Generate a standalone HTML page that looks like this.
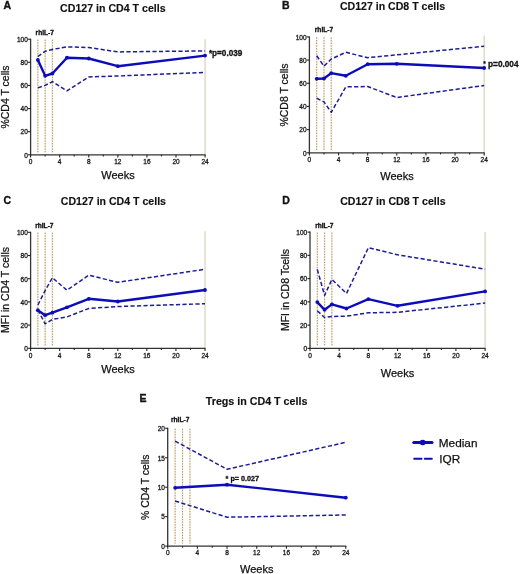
<!DOCTYPE html>
<html><head><meta charset="utf-8"><style>
html,body{margin:0;padding:0;background:#fff;width:520px;height:574px;overflow:hidden}
svg{display:block;font-family:"Liberation Sans", sans-serif;will-change:transform}
</style></head><body>
<svg width="520" height="574" viewBox="0 0 520 574">
<rect width="520" height="574" fill="#fff"/>
<line x1="37.87" y1="39.20" x2="37.87" y2="152.30" stroke="#f6eed6" stroke-width="1.6"/>
<line x1="37.87" y1="39.70" x2="37.87" y2="152.30" stroke="#ae9270" stroke-width="1.0" stroke-dasharray="1.3 1.35"/>
<line x1="45.14" y1="39.20" x2="45.14" y2="152.30" stroke="#f6eed6" stroke-width="1.6"/>
<line x1="45.14" y1="39.70" x2="45.14" y2="152.30" stroke="#ae9270" stroke-width="1.0" stroke-dasharray="1.3 1.35"/>
<line x1="52.41" y1="39.20" x2="52.41" y2="152.30" stroke="#f6eed6" stroke-width="1.6"/>
<line x1="52.41" y1="39.70" x2="52.41" y2="152.30" stroke="#ae9270" stroke-width="1.0" stroke-dasharray="1.3 1.35"/>
<line x1="205.08" y1="39.20" x2="205.08" y2="154.80" stroke="#e4dccb" stroke-width="1.6"/>
<line x1="30.60" y1="38.70" x2="30.60" y2="155.40" stroke="#333333" stroke-width="1.3"/>
<line x1="30.00" y1="154.80" x2="205.58" y2="154.80" stroke="#333333" stroke-width="1.3"/>
<line x1="28.00" y1="154.80" x2="30.60" y2="154.80" stroke="#222" stroke-width="1.1"/>
<text x="27.8" y="157.60000000000002" font-size="6.5" text-anchor="end" fill="#1a1a1a" stroke="#1a1a1a" stroke-width="0.3">0</text>
<line x1="28.00" y1="131.68" x2="30.60" y2="131.68" stroke="#222" stroke-width="1.1"/>
<text x="27.8" y="134.48000000000002" font-size="6.5" text-anchor="end" fill="#1a1a1a" stroke="#1a1a1a" stroke-width="0.3">20</text>
<line x1="28.00" y1="108.56" x2="30.60" y2="108.56" stroke="#222" stroke-width="1.1"/>
<text x="27.8" y="111.36" font-size="6.5" text-anchor="end" fill="#1a1a1a" stroke="#1a1a1a" stroke-width="0.3">40</text>
<line x1="28.00" y1="85.44" x2="30.60" y2="85.44" stroke="#222" stroke-width="1.1"/>
<text x="27.8" y="88.24" font-size="6.5" text-anchor="end" fill="#1a1a1a" stroke="#1a1a1a" stroke-width="0.3">60</text>
<line x1="28.00" y1="62.32" x2="30.60" y2="62.32" stroke="#222" stroke-width="1.1"/>
<text x="27.8" y="65.12" font-size="6.5" text-anchor="end" fill="#1a1a1a" stroke="#1a1a1a" stroke-width="0.3">80</text>
<line x1="28.00" y1="39.20" x2="30.60" y2="39.20" stroke="#222" stroke-width="1.1"/>
<text x="27.8" y="42.000000000000014" font-size="6.5" text-anchor="end" fill="#1a1a1a" stroke="#1a1a1a" stroke-width="0.3">100</text>
<line x1="30.60" y1="154.80" x2="30.60" y2="157.40" stroke="#222" stroke-width="1.1"/>
<text x="30.6" y="164.10000000000002" font-size="6.5" text-anchor="middle" fill="#1a1a1a" stroke="#1a1a1a" stroke-width="0.3">0</text>
<line x1="45.14" y1="154.80" x2="45.14" y2="156.40" stroke="#222" stroke-width="1.1"/>
<line x1="59.68" y1="154.80" x2="59.68" y2="157.40" stroke="#222" stroke-width="1.1"/>
<text x="59.68" y="164.10000000000002" font-size="6.5" text-anchor="middle" fill="#1a1a1a" stroke="#1a1a1a" stroke-width="0.3">4</text>
<line x1="74.22" y1="154.80" x2="74.22" y2="156.40" stroke="#222" stroke-width="1.1"/>
<line x1="88.76" y1="154.80" x2="88.76" y2="157.40" stroke="#222" stroke-width="1.1"/>
<text x="88.75999999999999" y="164.10000000000002" font-size="6.5" text-anchor="middle" fill="#1a1a1a" stroke="#1a1a1a" stroke-width="0.3">8</text>
<line x1="103.30" y1="154.80" x2="103.30" y2="156.40" stroke="#222" stroke-width="1.1"/>
<line x1="117.84" y1="154.80" x2="117.84" y2="157.40" stroke="#222" stroke-width="1.1"/>
<text x="117.84" y="164.10000000000002" font-size="6.5" text-anchor="middle" fill="#1a1a1a" stroke="#1a1a1a" stroke-width="0.3">12</text>
<line x1="132.38" y1="154.80" x2="132.38" y2="156.40" stroke="#222" stroke-width="1.1"/>
<line x1="146.92" y1="154.80" x2="146.92" y2="157.40" stroke="#222" stroke-width="1.1"/>
<text x="146.92" y="164.10000000000002" font-size="6.5" text-anchor="middle" fill="#1a1a1a" stroke="#1a1a1a" stroke-width="0.3">16</text>
<line x1="161.46" y1="154.80" x2="161.46" y2="156.40" stroke="#222" stroke-width="1.1"/>
<line x1="176.00" y1="154.80" x2="176.00" y2="157.40" stroke="#222" stroke-width="1.1"/>
<text x="175.99999999999997" y="164.10000000000002" font-size="6.5" text-anchor="middle" fill="#1a1a1a" stroke="#1a1a1a" stroke-width="0.3">20</text>
<line x1="190.54" y1="154.80" x2="190.54" y2="156.40" stroke="#222" stroke-width="1.1"/>
<line x1="205.08" y1="154.80" x2="205.08" y2="157.40" stroke="#222" stroke-width="1.1"/>
<text x="205.07999999999998" y="164.10000000000002" font-size="6.5" text-anchor="middle" fill="#1a1a1a" stroke="#1a1a1a" stroke-width="0.3">24</text>
<text x="60.1" y="11.6" font-size="10.7" font-weight="bold" text-anchor="start" fill="#111" textLength="105.5" lengthAdjust="spacingAndGlyphs" stroke="#111" stroke-width="0.15">CD127 in CD4 T cells</text>
<text x="3.5" y="9.0" font-size="10.5" font-weight="bold" text-anchor="start" fill="#111" stroke="#111" stroke-width="0.35">A</text>
<text x="35.6" y="34.6" font-size="6.6" font-weight="bold" text-anchor="start" fill="#111" stroke="#111" stroke-width="0.3">rhIL-7</text>
<text x="118" y="179.2" font-size="11" text-anchor="middle" fill="#111" stroke="#111" stroke-width="0.25">Weeks</text>
<text x="9.2" y="97" font-size="10.5" text-anchor="middle" fill="#111" transform="rotate(-90 9.2 97)" stroke="#111" stroke-width="0.25">%CD4 T cells</text>
<polyline points="37.87,56.50 45.14,51.30 52.41,49.40 66.95,46.90 88.76,47.50 117.84,51.90 205.08,50.90" fill="none" stroke="#1c1c98" stroke-width="1.5" stroke-linejoin="round" stroke-dasharray="4.2 2.3"/>
<polyline points="37.87,87.90 45.14,85.40 52.41,81.70 66.95,90.80 88.76,76.90 117.84,76.00 205.08,72.40" fill="none" stroke="#1c1c98" stroke-width="1.5" stroke-linejoin="round" stroke-dasharray="4.2 2.3"/>
<polyline points="37.87,60.00 45.14,75.80 52.41,73.50 66.95,57.70 88.76,58.50 117.84,66.20 205.08,55.60" fill="none" stroke="#0c0cba" stroke-width="2.4" stroke-linejoin="round"/>
<circle cx="37.87" cy="60.00" r="1.9" fill="#0c0cba"/>
<circle cx="45.14" cy="75.80" r="1.9" fill="#0c0cba"/>
<circle cx="52.41" cy="73.50" r="1.9" fill="#0c0cba"/>
<circle cx="66.95" cy="57.70" r="1.9" fill="#0c0cba"/>
<circle cx="88.76" cy="58.50" r="1.9" fill="#0c0cba"/>
<circle cx="117.84" cy="66.20" r="1.9" fill="#0c0cba"/>
<circle cx="205.08" cy="55.60" r="1.9" fill="#0c0cba"/>
<text x="208.9" y="56.0" font-size="8.7" font-weight="bold" text-anchor="start" fill="#111" textLength="33.4" lengthAdjust="spacingAndGlyphs" stroke="#111" stroke-width="0.3">*p=0.039</text>
<line x1="316.68" y1="36.90" x2="316.68" y2="150.30" stroke="#f6eed6" stroke-width="1.6"/>
<line x1="316.68" y1="37.40" x2="316.68" y2="150.30" stroke="#ae9270" stroke-width="1.0" stroke-dasharray="1.3 1.35"/>
<line x1="323.97" y1="36.90" x2="323.97" y2="150.30" stroke="#f6eed6" stroke-width="1.6"/>
<line x1="323.97" y1="37.40" x2="323.97" y2="150.30" stroke="#ae9270" stroke-width="1.0" stroke-dasharray="1.3 1.35"/>
<line x1="331.25" y1="36.90" x2="331.25" y2="150.30" stroke="#f6eed6" stroke-width="1.6"/>
<line x1="331.25" y1="37.40" x2="331.25" y2="150.30" stroke="#ae9270" stroke-width="1.0" stroke-dasharray="1.3 1.35"/>
<line x1="484.19" y1="35.50" x2="484.19" y2="152.80" stroke="#e4dccb" stroke-width="1.6"/>
<line x1="309.40" y1="36.40" x2="309.40" y2="153.40" stroke="#333333" stroke-width="1.3"/>
<line x1="308.80" y1="152.80" x2="484.69" y2="152.80" stroke="#333333" stroke-width="1.3"/>
<line x1="306.80" y1="152.80" x2="309.40" y2="152.80" stroke="#222" stroke-width="1.1"/>
<text x="306.59999999999997" y="155.60000000000002" font-size="6.5" text-anchor="end" fill="#1a1a1a" stroke="#1a1a1a" stroke-width="0.3">0</text>
<line x1="306.80" y1="129.62" x2="309.40" y2="129.62" stroke="#222" stroke-width="1.1"/>
<text x="306.59999999999997" y="132.42000000000002" font-size="6.5" text-anchor="end" fill="#1a1a1a" stroke="#1a1a1a" stroke-width="0.3">20</text>
<line x1="306.80" y1="106.44" x2="309.40" y2="106.44" stroke="#222" stroke-width="1.1"/>
<text x="306.59999999999997" y="109.24000000000001" font-size="6.5" text-anchor="end" fill="#1a1a1a" stroke="#1a1a1a" stroke-width="0.3">40</text>
<line x1="306.80" y1="83.26" x2="309.40" y2="83.26" stroke="#222" stroke-width="1.1"/>
<text x="306.59999999999997" y="86.06" font-size="6.5" text-anchor="end" fill="#1a1a1a" stroke="#1a1a1a" stroke-width="0.3">60</text>
<line x1="306.80" y1="60.08" x2="309.40" y2="60.08" stroke="#222" stroke-width="1.1"/>
<text x="306.59999999999997" y="62.88000000000001" font-size="6.5" text-anchor="end" fill="#1a1a1a" stroke="#1a1a1a" stroke-width="0.3">80</text>
<line x1="306.80" y1="36.90" x2="309.40" y2="36.90" stroke="#222" stroke-width="1.1"/>
<text x="306.59999999999997" y="39.7" font-size="6.5" text-anchor="end" fill="#1a1a1a" stroke="#1a1a1a" stroke-width="0.3">100</text>
<line x1="309.40" y1="152.80" x2="309.40" y2="155.40" stroke="#222" stroke-width="1.1"/>
<text x="309.4" y="162.10000000000002" font-size="6.5" text-anchor="middle" fill="#1a1a1a" stroke="#1a1a1a" stroke-width="0.3">0</text>
<line x1="323.97" y1="152.80" x2="323.97" y2="154.40" stroke="#222" stroke-width="1.1"/>
<line x1="338.53" y1="152.80" x2="338.53" y2="155.40" stroke="#222" stroke-width="1.1"/>
<text x="338.532" y="162.10000000000002" font-size="6.5" text-anchor="middle" fill="#1a1a1a" stroke="#1a1a1a" stroke-width="0.3">4</text>
<line x1="353.10" y1="152.80" x2="353.10" y2="154.40" stroke="#222" stroke-width="1.1"/>
<line x1="367.66" y1="152.80" x2="367.66" y2="155.40" stroke="#222" stroke-width="1.1"/>
<text x="367.664" y="162.10000000000002" font-size="6.5" text-anchor="middle" fill="#1a1a1a" stroke="#1a1a1a" stroke-width="0.3">8</text>
<line x1="382.23" y1="152.80" x2="382.23" y2="154.40" stroke="#222" stroke-width="1.1"/>
<line x1="396.80" y1="152.80" x2="396.80" y2="155.40" stroke="#222" stroke-width="1.1"/>
<text x="396.796" y="162.10000000000002" font-size="6.5" text-anchor="middle" fill="#1a1a1a" stroke="#1a1a1a" stroke-width="0.3">12</text>
<line x1="411.36" y1="152.80" x2="411.36" y2="154.40" stroke="#222" stroke-width="1.1"/>
<line x1="425.93" y1="152.80" x2="425.93" y2="155.40" stroke="#222" stroke-width="1.1"/>
<text x="425.928" y="162.10000000000002" font-size="6.5" text-anchor="middle" fill="#1a1a1a" stroke="#1a1a1a" stroke-width="0.3">16</text>
<line x1="440.49" y1="152.80" x2="440.49" y2="154.40" stroke="#222" stroke-width="1.1"/>
<line x1="455.06" y1="152.80" x2="455.06" y2="155.40" stroke="#222" stroke-width="1.1"/>
<text x="455.05999999999995" y="162.10000000000002" font-size="6.5" text-anchor="middle" fill="#1a1a1a" stroke="#1a1a1a" stroke-width="0.3">20</text>
<line x1="469.63" y1="152.80" x2="469.63" y2="154.40" stroke="#222" stroke-width="1.1"/>
<line x1="484.19" y1="152.80" x2="484.19" y2="155.40" stroke="#222" stroke-width="1.1"/>
<text x="484.192" y="162.10000000000002" font-size="6.5" text-anchor="middle" fill="#1a1a1a" stroke="#1a1a1a" stroke-width="0.3">24</text>
<text x="339.9" y="10.2" font-size="10.7" font-weight="bold" text-anchor="start" fill="#111" textLength="105.2" lengthAdjust="spacingAndGlyphs" stroke="#111" stroke-width="0.15">CD127 in CD8 T cells</text>
<text x="282" y="9" font-size="10.5" font-weight="bold" text-anchor="start" fill="#111" stroke="#111" stroke-width="0.35">B</text>
<text x="314.8" y="32.3" font-size="6.6" font-weight="bold" text-anchor="start" fill="#111" stroke="#111" stroke-width="0.3">rhIL-7</text>
<text x="397" y="179.8" font-size="11" text-anchor="middle" fill="#111" stroke="#111" stroke-width="0.25">Weeks</text>
<text x="287.6" y="95" font-size="10.5" text-anchor="middle" fill="#111" transform="rotate(-90 287.6 95)" stroke="#111" stroke-width="0.25">%CD8 T cells</text>
<polyline points="316.68,55.80 323.97,66.20 331.25,59.00 345.81,52.30 367.66,57.70 484.19,46.25" fill="none" stroke="#1c1c98" stroke-width="1.5" stroke-linejoin="round" stroke-dasharray="4.2 2.3"/>
<polyline points="316.68,98.10 323.97,101.90 331.25,112.30 345.81,86.90 367.66,86.50 396.80,97.50 484.19,85.50" fill="none" stroke="#1c1c98" stroke-width="1.5" stroke-linejoin="round" stroke-dasharray="4.2 2.3"/>
<polyline points="316.68,78.80 323.97,78.50 331.25,73.10 345.81,75.80 367.66,64.20 396.80,63.80 484.19,68.00" fill="none" stroke="#0c0cba" stroke-width="2.4" stroke-linejoin="round"/>
<circle cx="316.68" cy="78.80" r="1.9" fill="#0c0cba"/>
<circle cx="323.97" cy="78.50" r="1.9" fill="#0c0cba"/>
<circle cx="331.25" cy="73.10" r="1.9" fill="#0c0cba"/>
<circle cx="345.81" cy="75.80" r="1.9" fill="#0c0cba"/>
<circle cx="367.66" cy="64.20" r="1.9" fill="#0c0cba"/>
<circle cx="396.80" cy="63.80" r="1.9" fill="#0c0cba"/>
<circle cx="484.19" cy="68.00" r="1.9" fill="#0c0cba"/>
<text x="488.1" y="66.9" font-size="8.4" font-weight="bold" text-anchor="start" fill="#111" textLength="30.4" lengthAdjust="spacingAndGlyphs" stroke="#111" stroke-width="0.3">p=0.004</text>
<text x="483.2" y="65.5" font-size="6.5" font-weight="bold" text-anchor="start" fill="#111" stroke="#111" stroke-width="0.2">*</text>
<line x1="37.87" y1="232.30" x2="37.87" y2="345.80" stroke="#f6eed6" stroke-width="1.6"/>
<line x1="37.87" y1="232.80" x2="37.87" y2="345.80" stroke="#ae9270" stroke-width="1.0" stroke-dasharray="1.3 1.35"/>
<line x1="45.13" y1="232.30" x2="45.13" y2="345.80" stroke="#f6eed6" stroke-width="1.6"/>
<line x1="45.13" y1="232.80" x2="45.13" y2="345.80" stroke="#ae9270" stroke-width="1.0" stroke-dasharray="1.3 1.35"/>
<line x1="52.40" y1="232.30" x2="52.40" y2="345.80" stroke="#f6eed6" stroke-width="1.6"/>
<line x1="52.40" y1="232.80" x2="52.40" y2="345.80" stroke="#ae9270" stroke-width="1.0" stroke-dasharray="1.3 1.35"/>
<line x1="205.01" y1="231.30" x2="205.01" y2="348.30" stroke="#e4dccb" stroke-width="1.6"/>
<line x1="30.60" y1="231.80" x2="30.60" y2="348.90" stroke="#333333" stroke-width="1.3"/>
<line x1="30.00" y1="348.30" x2="205.51" y2="348.30" stroke="#333333" stroke-width="1.3"/>
<line x1="28.00" y1="348.30" x2="30.60" y2="348.30" stroke="#222" stroke-width="1.1"/>
<text x="27.8" y="351.1" font-size="6.5" text-anchor="end" fill="#1a1a1a" stroke="#1a1a1a" stroke-width="0.3">0</text>
<line x1="28.00" y1="325.10" x2="30.60" y2="325.10" stroke="#222" stroke-width="1.1"/>
<text x="27.8" y="327.90000000000003" font-size="6.5" text-anchor="end" fill="#1a1a1a" stroke="#1a1a1a" stroke-width="0.3">20</text>
<line x1="28.00" y1="301.90" x2="30.60" y2="301.90" stroke="#222" stroke-width="1.1"/>
<text x="27.8" y="304.70000000000005" font-size="6.5" text-anchor="end" fill="#1a1a1a" stroke="#1a1a1a" stroke-width="0.3">40</text>
<line x1="28.00" y1="278.70" x2="30.60" y2="278.70" stroke="#222" stroke-width="1.1"/>
<text x="27.8" y="281.50000000000006" font-size="6.5" text-anchor="end" fill="#1a1a1a" stroke="#1a1a1a" stroke-width="0.3">60</text>
<line x1="28.00" y1="255.50" x2="30.60" y2="255.50" stroke="#222" stroke-width="1.1"/>
<text x="27.8" y="258.3" font-size="6.5" text-anchor="end" fill="#1a1a1a" stroke="#1a1a1a" stroke-width="0.3">80</text>
<line x1="28.00" y1="232.30" x2="30.60" y2="232.30" stroke="#222" stroke-width="1.1"/>
<text x="27.8" y="235.10000000000002" font-size="6.5" text-anchor="end" fill="#1a1a1a" stroke="#1a1a1a" stroke-width="0.3">100</text>
<line x1="30.60" y1="348.30" x2="30.60" y2="350.90" stroke="#222" stroke-width="1.1"/>
<text x="30.6" y="357.6" font-size="6.5" text-anchor="middle" fill="#1a1a1a" stroke="#1a1a1a" stroke-width="0.3">0</text>
<line x1="45.13" y1="348.30" x2="45.13" y2="349.90" stroke="#222" stroke-width="1.1"/>
<line x1="59.67" y1="348.30" x2="59.67" y2="350.90" stroke="#222" stroke-width="1.1"/>
<text x="59.668000000000006" y="357.6" font-size="6.5" text-anchor="middle" fill="#1a1a1a" stroke="#1a1a1a" stroke-width="0.3">4</text>
<line x1="74.20" y1="348.30" x2="74.20" y2="349.90" stroke="#222" stroke-width="1.1"/>
<line x1="88.74" y1="348.30" x2="88.74" y2="350.90" stroke="#222" stroke-width="1.1"/>
<text x="88.736" y="357.6" font-size="6.5" text-anchor="middle" fill="#1a1a1a" stroke="#1a1a1a" stroke-width="0.3">8</text>
<line x1="103.27" y1="348.30" x2="103.27" y2="349.90" stroke="#222" stroke-width="1.1"/>
<line x1="117.80" y1="348.30" x2="117.80" y2="350.90" stroke="#222" stroke-width="1.1"/>
<text x="117.804" y="357.6" font-size="6.5" text-anchor="middle" fill="#1a1a1a" stroke="#1a1a1a" stroke-width="0.3">12</text>
<line x1="132.34" y1="348.30" x2="132.34" y2="349.90" stroke="#222" stroke-width="1.1"/>
<line x1="146.87" y1="348.30" x2="146.87" y2="350.90" stroke="#222" stroke-width="1.1"/>
<text x="146.872" y="357.6" font-size="6.5" text-anchor="middle" fill="#1a1a1a" stroke="#1a1a1a" stroke-width="0.3">16</text>
<line x1="161.41" y1="348.30" x2="161.41" y2="349.90" stroke="#222" stroke-width="1.1"/>
<line x1="175.94" y1="348.30" x2="175.94" y2="350.90" stroke="#222" stroke-width="1.1"/>
<text x="175.94" y="357.6" font-size="6.5" text-anchor="middle" fill="#1a1a1a" stroke="#1a1a1a" stroke-width="0.3">20</text>
<line x1="190.47" y1="348.30" x2="190.47" y2="349.90" stroke="#222" stroke-width="1.1"/>
<line x1="205.01" y1="348.30" x2="205.01" y2="350.90" stroke="#222" stroke-width="1.1"/>
<text x="205.008" y="357.6" font-size="6.5" text-anchor="middle" fill="#1a1a1a" stroke="#1a1a1a" stroke-width="0.3">24</text>
<text x="60.8" y="205.2" font-size="10.7" font-weight="bold" text-anchor="start" fill="#111" textLength="105.2" lengthAdjust="spacingAndGlyphs" stroke="#111" stroke-width="0.15">CD127 in CD4 T cells</text>
<text x="3.5" y="203.8" font-size="10.5" font-weight="bold" text-anchor="start" fill="#111" stroke="#111" stroke-width="0.35">C</text>
<text x="35.2" y="228.2" font-size="6.6" font-weight="bold" text-anchor="start" fill="#111" stroke="#111" stroke-width="0.3">rhIL-7</text>
<text x="118" y="373" font-size="11" text-anchor="middle" fill="#111" stroke="#111" stroke-width="0.25">Weeks</text>
<text x="9.2" y="290" font-size="10.5" text-anchor="middle" fill="#111" transform="rotate(-90 9.2 290)" stroke="#111" stroke-width="0.25">MFI in CD4 T cells</text>
<polyline points="37.87,305.00 45.13,290.60 52.40,277.70 66.94,290.20 88.74,275.20 117.80,282.30 205.01,269.25" fill="none" stroke="#1c1c98" stroke-width="1.5" stroke-linejoin="round" stroke-dasharray="4.2 2.3"/>
<polyline points="37.87,310.00 45.13,323.80 52.40,319.40 66.94,316.90 88.74,308.50 117.80,306.50 205.01,303.75" fill="none" stroke="#1c1c98" stroke-width="1.5" stroke-linejoin="round" stroke-dasharray="4.2 2.3"/>
<polyline points="37.87,310.20 45.13,315.20 52.40,312.70 66.94,307.30 88.74,298.80 117.80,301.50 205.01,290.00" fill="none" stroke="#0c0cba" stroke-width="2.4" stroke-linejoin="round"/>
<circle cx="37.87" cy="310.20" r="1.9" fill="#0c0cba"/>
<circle cx="45.13" cy="315.20" r="1.9" fill="#0c0cba"/>
<circle cx="52.40" cy="312.70" r="1.9" fill="#0c0cba"/>
<circle cx="66.94" cy="307.30" r="1.9" fill="#0c0cba"/>
<circle cx="88.74" cy="298.80" r="1.9" fill="#0c0cba"/>
<circle cx="117.80" cy="301.50" r="1.9" fill="#0c0cba"/>
<circle cx="205.01" cy="290.00" r="1.9" fill="#0c0cba"/>
<line x1="317.30" y1="232.10" x2="317.30" y2="345.90" stroke="#f6eed6" stroke-width="1.6"/>
<line x1="317.30" y1="232.60" x2="317.30" y2="345.90" stroke="#ae9270" stroke-width="1.0" stroke-dasharray="1.3 1.35"/>
<line x1="324.59" y1="232.10" x2="324.59" y2="345.90" stroke="#f6eed6" stroke-width="1.6"/>
<line x1="324.59" y1="232.60" x2="324.59" y2="345.90" stroke="#ae9270" stroke-width="1.0" stroke-dasharray="1.3 1.35"/>
<line x1="331.89" y1="232.10" x2="331.89" y2="345.90" stroke="#f6eed6" stroke-width="1.6"/>
<line x1="331.89" y1="232.60" x2="331.89" y2="345.90" stroke="#ae9270" stroke-width="1.0" stroke-dasharray="1.3 1.35"/>
<line x1="485.10" y1="232.10" x2="485.10" y2="348.40" stroke="#e4dccb" stroke-width="1.6"/>
<line x1="310.00" y1="231.60" x2="310.00" y2="349.00" stroke="#333333" stroke-width="1.3"/>
<line x1="309.40" y1="348.40" x2="485.60" y2="348.40" stroke="#333333" stroke-width="1.3"/>
<line x1="307.40" y1="348.40" x2="310.00" y2="348.40" stroke="#222" stroke-width="1.1"/>
<text x="307.2" y="351.2" font-size="6.5" text-anchor="end" fill="#1a1a1a" stroke="#1a1a1a" stroke-width="0.3">0</text>
<line x1="307.40" y1="325.14" x2="310.00" y2="325.14" stroke="#222" stroke-width="1.1"/>
<text x="307.2" y="327.94" font-size="6.5" text-anchor="end" fill="#1a1a1a" stroke="#1a1a1a" stroke-width="0.3">20</text>
<line x1="307.40" y1="301.88" x2="310.00" y2="301.88" stroke="#222" stroke-width="1.1"/>
<text x="307.2" y="304.68" font-size="6.5" text-anchor="end" fill="#1a1a1a" stroke="#1a1a1a" stroke-width="0.3">40</text>
<line x1="307.40" y1="278.62" x2="310.00" y2="278.62" stroke="#222" stroke-width="1.1"/>
<text x="307.2" y="281.42" font-size="6.5" text-anchor="end" fill="#1a1a1a" stroke="#1a1a1a" stroke-width="0.3">60</text>
<line x1="307.40" y1="255.36" x2="310.00" y2="255.36" stroke="#222" stroke-width="1.1"/>
<text x="307.2" y="258.16" font-size="6.5" text-anchor="end" fill="#1a1a1a" stroke="#1a1a1a" stroke-width="0.3">80</text>
<line x1="307.40" y1="232.10" x2="310.00" y2="232.10" stroke="#222" stroke-width="1.1"/>
<text x="307.2" y="234.9" font-size="6.5" text-anchor="end" fill="#1a1a1a" stroke="#1a1a1a" stroke-width="0.3">100</text>
<line x1="310.00" y1="348.40" x2="310.00" y2="351.00" stroke="#222" stroke-width="1.1"/>
<text x="310.0" y="357.7" font-size="6.5" text-anchor="middle" fill="#1a1a1a" stroke="#1a1a1a" stroke-width="0.3">0</text>
<line x1="324.59" y1="348.40" x2="324.59" y2="350.00" stroke="#222" stroke-width="1.1"/>
<line x1="339.18" y1="348.40" x2="339.18" y2="351.00" stroke="#222" stroke-width="1.1"/>
<text x="339.184" y="357.7" font-size="6.5" text-anchor="middle" fill="#1a1a1a" stroke="#1a1a1a" stroke-width="0.3">4</text>
<line x1="353.78" y1="348.40" x2="353.78" y2="350.00" stroke="#222" stroke-width="1.1"/>
<line x1="368.37" y1="348.40" x2="368.37" y2="351.00" stroke="#222" stroke-width="1.1"/>
<text x="368.368" y="357.7" font-size="6.5" text-anchor="middle" fill="#1a1a1a" stroke="#1a1a1a" stroke-width="0.3">8</text>
<line x1="382.96" y1="348.40" x2="382.96" y2="350.00" stroke="#222" stroke-width="1.1"/>
<line x1="397.55" y1="348.40" x2="397.55" y2="351.00" stroke="#222" stroke-width="1.1"/>
<text x="397.552" y="357.7" font-size="6.5" text-anchor="middle" fill="#1a1a1a" stroke="#1a1a1a" stroke-width="0.3">12</text>
<line x1="412.14" y1="348.40" x2="412.14" y2="350.00" stroke="#222" stroke-width="1.1"/>
<line x1="426.74" y1="348.40" x2="426.74" y2="351.00" stroke="#222" stroke-width="1.1"/>
<text x="426.736" y="357.7" font-size="6.5" text-anchor="middle" fill="#1a1a1a" stroke="#1a1a1a" stroke-width="0.3">16</text>
<line x1="441.33" y1="348.40" x2="441.33" y2="350.00" stroke="#222" stroke-width="1.1"/>
<line x1="455.92" y1="348.40" x2="455.92" y2="351.00" stroke="#222" stroke-width="1.1"/>
<text x="455.92" y="357.7" font-size="6.5" text-anchor="middle" fill="#1a1a1a" stroke="#1a1a1a" stroke-width="0.3">20</text>
<line x1="470.51" y1="348.40" x2="470.51" y2="350.00" stroke="#222" stroke-width="1.1"/>
<line x1="485.10" y1="348.40" x2="485.10" y2="351.00" stroke="#222" stroke-width="1.1"/>
<text x="485.10400000000004" y="357.7" font-size="6.5" text-anchor="middle" fill="#1a1a1a" stroke="#1a1a1a" stroke-width="0.3">24</text>
<text x="340.2" y="204.6" font-size="10.7" font-weight="bold" text-anchor="start" fill="#111" textLength="105.4" lengthAdjust="spacingAndGlyphs" stroke="#111" stroke-width="0.15">CD127 in CD8 T cells</text>
<text x="282.2" y="203.6" font-size="10.5" font-weight="bold" text-anchor="start" fill="#111" stroke="#111" stroke-width="0.35">D</text>
<text x="315.2" y="228.2" font-size="6.6" font-weight="bold" text-anchor="start" fill="#111" stroke="#111" stroke-width="0.3">rhIL-7</text>
<text x="397.5" y="376.7" font-size="11" text-anchor="middle" fill="#111" stroke="#111" stroke-width="0.25">Weeks</text>
<text x="288.5" y="290" font-size="10.5" text-anchor="middle" fill="#111" transform="rotate(-90 288.5 290)" stroke="#111" stroke-width="0.25">MFI in CD8 Tcells</text>
<polyline points="317.30,269.40 324.59,295.40 331.89,279.40 346.48,293.50 368.37,247.70 397.55,254.80 485.10,269.20" fill="none" stroke="#1c1c98" stroke-width="1.5" stroke-linejoin="round" stroke-dasharray="4.2 2.3"/>
<polyline points="317.30,310.80 324.59,317.50 331.89,316.50 346.48,316.20 368.37,312.80 397.55,312.30 485.10,303.10" fill="none" stroke="#1c1c98" stroke-width="1.5" stroke-linejoin="round" stroke-dasharray="4.2 2.3"/>
<polyline points="317.30,302.10 324.59,309.80 331.89,304.40 346.48,308.50 368.37,299.10 397.55,305.80 485.10,291.40" fill="none" stroke="#0c0cba" stroke-width="2.4" stroke-linejoin="round"/>
<circle cx="317.30" cy="302.10" r="1.9" fill="#0c0cba"/>
<circle cx="324.59" cy="309.80" r="1.9" fill="#0c0cba"/>
<circle cx="331.89" cy="304.40" r="1.9" fill="#0c0cba"/>
<circle cx="346.48" cy="308.50" r="1.9" fill="#0c0cba"/>
<circle cx="368.37" cy="299.10" r="1.9" fill="#0c0cba"/>
<circle cx="397.55" cy="305.80" r="1.9" fill="#0c0cba"/>
<circle cx="485.10" cy="291.40" r="1.9" fill="#0c0cba"/>
<line x1="175.12" y1="428.30" x2="175.12" y2="543.60" stroke="#f6eed6" stroke-width="1.6"/>
<line x1="175.12" y1="428.80" x2="175.12" y2="543.60" stroke="#ae9270" stroke-width="1.0" stroke-dasharray="1.3 1.35"/>
<line x1="182.54" y1="428.30" x2="182.54" y2="543.60" stroke="#f6eed6" stroke-width="1.6"/>
<line x1="182.54" y1="428.80" x2="182.54" y2="543.60" stroke="#ae9270" stroke-width="1.0" stroke-dasharray="1.3 1.35"/>
<line x1="189.96" y1="428.30" x2="189.96" y2="543.60" stroke="#f6eed6" stroke-width="1.6"/>
<line x1="189.96" y1="428.80" x2="189.96" y2="543.60" stroke="#ae9270" stroke-width="1.0" stroke-dasharray="1.3 1.35"/>
<line x1="167.70" y1="427.80" x2="167.70" y2="546.70" stroke="#333333" stroke-width="1.3"/>
<line x1="167.10" y1="546.10" x2="346.28" y2="546.10" stroke="#333333" stroke-width="1.3"/>
<line x1="165.10" y1="546.10" x2="167.70" y2="546.10" stroke="#222" stroke-width="1.1"/>
<text x="164.89999999999998" y="548.9" font-size="6.5" text-anchor="end" fill="#1a1a1a" stroke="#1a1a1a" stroke-width="0.3">0</text>
<line x1="165.10" y1="516.65" x2="167.70" y2="516.65" stroke="#222" stroke-width="1.1"/>
<text x="164.89999999999998" y="519.4499999999999" font-size="6.5" text-anchor="end" fill="#1a1a1a" stroke="#1a1a1a" stroke-width="0.3">5</text>
<line x1="165.10" y1="487.20" x2="167.70" y2="487.20" stroke="#222" stroke-width="1.1"/>
<text x="164.89999999999998" y="490.00000000000006" font-size="6.5" text-anchor="end" fill="#1a1a1a" stroke="#1a1a1a" stroke-width="0.3">10</text>
<line x1="165.10" y1="457.75" x2="167.70" y2="457.75" stroke="#222" stroke-width="1.1"/>
<text x="164.89999999999998" y="460.55" font-size="6.5" text-anchor="end" fill="#1a1a1a" stroke="#1a1a1a" stroke-width="0.3">15</text>
<line x1="165.10" y1="428.30" x2="167.70" y2="428.30" stroke="#222" stroke-width="1.1"/>
<text x="164.89999999999998" y="431.1" font-size="6.5" text-anchor="end" fill="#1a1a1a" stroke="#1a1a1a" stroke-width="0.3">20</text>
<line x1="167.70" y1="546.10" x2="167.70" y2="548.70" stroke="#222" stroke-width="1.1"/>
<text x="167.7" y="555.4" font-size="6.5" text-anchor="middle" fill="#1a1a1a" stroke="#1a1a1a" stroke-width="0.3">0</text>
<line x1="182.54" y1="546.10" x2="182.54" y2="547.70" stroke="#222" stroke-width="1.1"/>
<line x1="197.38" y1="546.10" x2="197.38" y2="548.70" stroke="#222" stroke-width="1.1"/>
<text x="197.38" y="555.4" font-size="6.5" text-anchor="middle" fill="#1a1a1a" stroke="#1a1a1a" stroke-width="0.3">4</text>
<line x1="212.22" y1="546.10" x2="212.22" y2="547.70" stroke="#222" stroke-width="1.1"/>
<line x1="227.06" y1="546.10" x2="227.06" y2="548.70" stroke="#222" stroke-width="1.1"/>
<text x="227.06" y="555.4" font-size="6.5" text-anchor="middle" fill="#1a1a1a" stroke="#1a1a1a" stroke-width="0.3">8</text>
<line x1="241.90" y1="546.10" x2="241.90" y2="547.70" stroke="#222" stroke-width="1.1"/>
<line x1="256.74" y1="546.10" x2="256.74" y2="548.70" stroke="#222" stroke-width="1.1"/>
<text x="256.74" y="555.4" font-size="6.5" text-anchor="middle" fill="#1a1a1a" stroke="#1a1a1a" stroke-width="0.3">12</text>
<line x1="271.58" y1="546.10" x2="271.58" y2="547.70" stroke="#222" stroke-width="1.1"/>
<line x1="286.42" y1="546.10" x2="286.42" y2="548.70" stroke="#222" stroke-width="1.1"/>
<text x="286.41999999999996" y="555.4" font-size="6.5" text-anchor="middle" fill="#1a1a1a" stroke="#1a1a1a" stroke-width="0.3">16</text>
<line x1="301.26" y1="546.10" x2="301.26" y2="547.70" stroke="#222" stroke-width="1.1"/>
<line x1="316.10" y1="546.10" x2="316.10" y2="548.70" stroke="#222" stroke-width="1.1"/>
<text x="316.1" y="555.4" font-size="6.5" text-anchor="middle" fill="#1a1a1a" stroke="#1a1a1a" stroke-width="0.3">20</text>
<line x1="330.94" y1="546.10" x2="330.94" y2="547.70" stroke="#222" stroke-width="1.1"/>
<line x1="345.78" y1="546.10" x2="345.78" y2="548.70" stroke="#222" stroke-width="1.1"/>
<text x="345.78" y="555.4" font-size="6.5" text-anchor="middle" fill="#1a1a1a" stroke="#1a1a1a" stroke-width="0.3">24</text>
<text x="205.8" y="404.8" font-size="10.7" font-weight="bold" text-anchor="start" fill="#111" textLength="101.6" lengthAdjust="spacingAndGlyphs" stroke="#111" stroke-width="0.15">Tregs in CD4 T cells</text>
<text x="139.5" y="402.2" font-size="10.5" font-weight="bold" text-anchor="start" fill="#111" stroke="#111" stroke-width="0.35">E</text>
<text x="171" y="422.3" font-size="6.6" font-weight="bold" text-anchor="start" fill="#111" stroke="#111" stroke-width="0.3">rhIL-7</text>
<text x="256.7" y="572.6" font-size="11" text-anchor="middle" fill="#111" stroke="#111" stroke-width="0.25">Weeks</text>
<text x="148.9" y="487.2" font-size="10.4" text-anchor="middle" fill="#111" transform="rotate(-90 148.9 487.2)" stroke="#111" stroke-width="0.25">% CD4 T cells</text>
<polyline points="175.12,441.10 227.06,469.30 345.78,442.30" fill="none" stroke="#1c1c98" stroke-width="1.5" stroke-linejoin="round" stroke-dasharray="4.2 2.3"/>
<polyline points="175.12,501.00 227.06,517.20 345.78,515.00" fill="none" stroke="#1c1c98" stroke-width="1.5" stroke-linejoin="round" stroke-dasharray="4.2 2.3"/>
<polyline points="175.12,487.80 227.06,484.70 345.78,497.70" fill="none" stroke="#0c0cba" stroke-width="2.4" stroke-linejoin="round"/>
<circle cx="175.12" cy="487.80" r="1.9" fill="#0c0cba"/>
<circle cx="227.06" cy="484.70" r="1.9" fill="#0c0cba"/>
<circle cx="345.78" cy="497.70" r="1.9" fill="#0c0cba"/>
<text x="225.6" y="480.8" font-size="7.2" font-weight="bold" text-anchor="start" fill="#111" textLength="33.5" lengthAdjust="spacingAndGlyphs" stroke="#111" stroke-width="0.3">* p= 0.027</text>
<line x1="413.80" y1="442.50" x2="432.00" y2="442.50" stroke="#0c0cba" stroke-width="3.2" stroke-linecap="round"/>
<ellipse cx="422.7" cy="442.5" rx="3" ry="2.7" fill="#0c0cba"/>
<line x1="414.20" y1="458.70" x2="421.50" y2="458.70" stroke="#0c0cba" stroke-width="2" stroke-linecap="round"/>
<line x1="424.80" y1="458.70" x2="431.80" y2="458.70" stroke="#0c0cba" stroke-width="2" stroke-linecap="round"/>
<text x="438.8" y="447" font-size="11.8" text-anchor="start" fill="#111" stroke="#111" stroke-width="0.25">Median</text>
<text x="439.2" y="463" font-size="11.8" text-anchor="start" fill="#111" stroke="#111" stroke-width="0.25">IQR</text>
</svg></body></html>
